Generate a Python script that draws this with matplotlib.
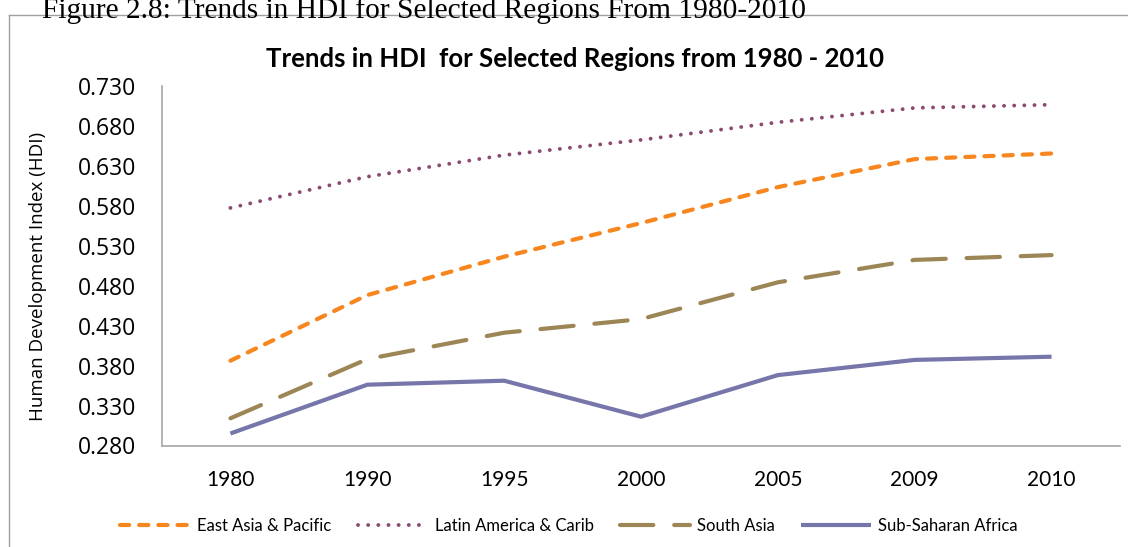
import matplotlib
matplotlib.use("Agg")
import matplotlib.pyplot as plt
from matplotlib.lines import Line2D

# Valores del IDH por region (1980 - 2010)
anios = ["1980", "1990", "1995", "2000", "2005", "2009", "2010"]
asia_oriental = [0.386, 0.468, 0.516, 0.558, 0.603, 0.638, 0.645]
america_latina = [0.577, 0.616, 0.643, 0.662, 0.684, 0.702, 0.706]
asia_sur = [0.314, 0.388, 0.421, 0.438, 0.484, 0.512, 0.518]
africa_subsahariana = [0.295, 0.356, 0.361, 0.316, 0.368, 0.387, 0.391]
ticks_y = [0.28, 0.33, 0.38, 0.43, 0.48, 0.53, 0.58, 0.63, 0.68, 0.73]

fig = plt.figure(figsize=(11.28, 5.47), dpi=100)
ax = fig.add_axes([162 / 1128, 101.5 / 547, 958 / 1128, 360 / 547])

x = list(range(len(anios)))
lw = 3
ax.plot(x, asia_oriental, color="#F7861E", lw=lw, dashes=(2.2, 2.4),
        dash_capstyle="round", label="East Asia & Pacific")
ax.plot(x, america_latina, color="#8C4A72", lw=2.8, dashes=(0.01, 2.6),
        dash_capstyle="round", label="Latin America & Carib")
ax.plot(x, asia_sur, color="#9C8656", lw=lw, dashes=(8.0, 5.0),
        dash_capstyle="round", label="South Asia")
ax.plot(x, africa_subsahariana, color="#7676AA", lw=lw, solid_capstyle="butt",
        label="Sub-Saharan Africa")

ax.set_xlim(-0.5, len(anios) - 0.5)
ax.set_ylim(0.28, 0.73)
ax.set_xticks(x)
ax.set_xticklabels(anios, fontfamily="Lato", fontsize=15)
ax.set_yticks(ticks_y)
ax.set_yticklabels([f"{v:.3f}" for v in ticks_y], fontfamily="Open Sans", fontsize=16.5)
ax.tick_params(axis="both", length=0)
ax.tick_params(axis="y", pad=18.5)
ax.tick_params(axis="x", pad=18)

for lado in ["top", "right"]:
    ax.spines[lado].set_visible(False)
for lado in ["left", "bottom"]:
    ax.spines[lado].set_color("#A6A6A6")
    ax.spines[lado].set_linewidth(1.2)

fig.text(38 / 1128, 1 - 276 / 547, "Human Development Index (HDI)", rotation=90,
         ha="center", va="center", fontfamily="Open Sans", fontsize=13.5)

fig.text(575 / 1128, 1 - 59 / 547, "Trends in HDI  for Selected Regions from 1980 - 2010",
         ha="center", va="center", fontfamily="Lato", fontweight="bold", fontsize=18.5)

# Pie de figura (cortado en la parte superior)
fig.text(42 / 1128, 1 - 18 / 547, "Figure 2.8: Trends in HDI for Selected Regions From 1980-2010",
         ha="left", va="baseline", fontfamily="Liberation Serif", fontsize=21.2)

# Marco del grafico: solo borde izquierdo y superior quedan dentro de la imagen
x0 = 8.5 / 1128
y_top = 1 - 14.5 / 547
borde_izq = Line2D([x0, x0], [1 / 547, y_top], transform=fig.transFigure,
                   color="#A0A0A0", lw=1)
borde_sup = Line2D([x0, 1127 / 1128], [y_top, y_top], transform=fig.transFigure,
                   color="#A0A0A0", lw=1)
fig.add_artist(borde_izq)
fig.add_artist(borde_sup)

fig.legend(loc="center", bbox_to_anchor=(569 / 1128, 1 - 526 / 547), ncol=4,
           frameon=False, prop={"family": "Lato", "size": 12}, handlelength=4.2,
           handletextpad=0.4, columnspacing=1.6)

fig.savefig("out.png", dpi=100)
